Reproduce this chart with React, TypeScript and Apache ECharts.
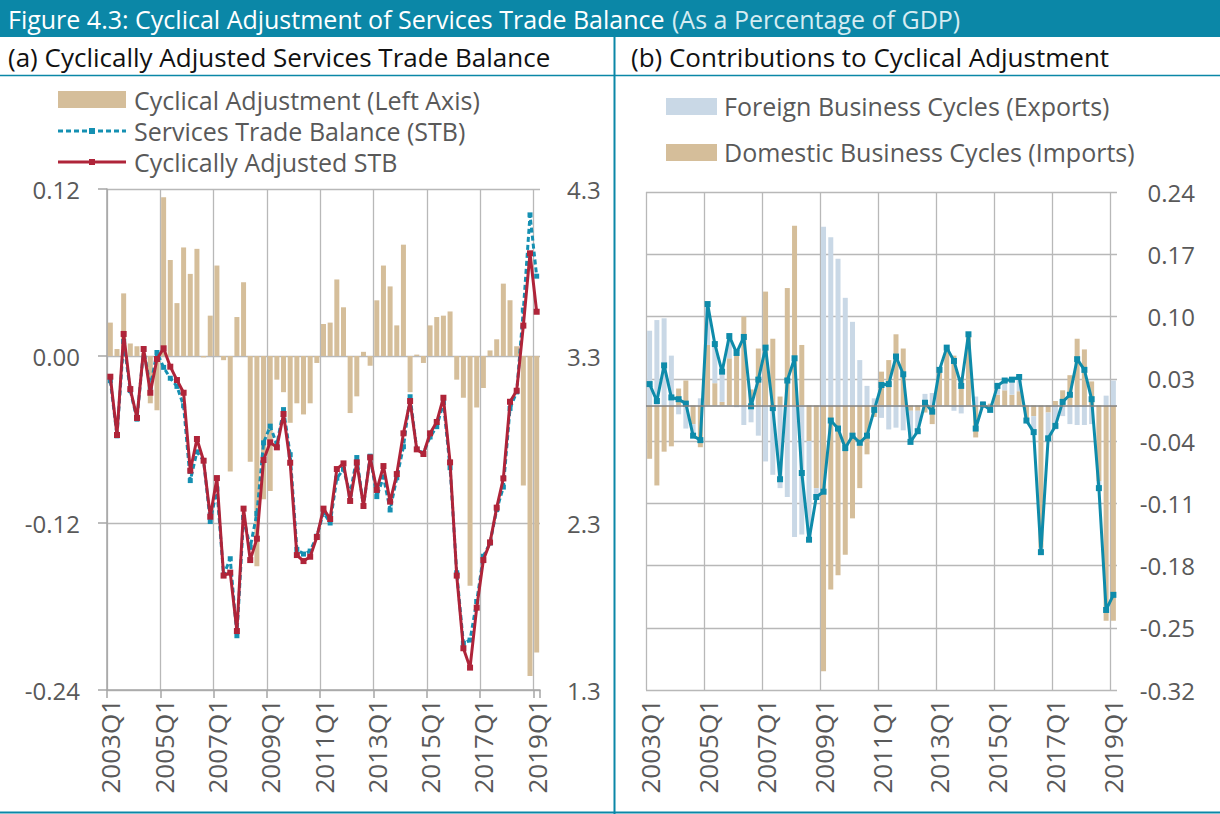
import React, { useEffect, useRef } from "react";
import * as echarts from "echarts";

// ---------- categories ----------
const quarters: string[] = [];
for (let y = 2003; y <= 2019; y++) {
  for (let q = 1; q <= 4; q++) {
    if (y === 2019 && q > 1) break;
    quarters.push(`${y}Q${q}`);
  }
}

// ---------- tick labels ----------
const adjustmentTicks = [-0.24, -0.12, 0, 0.12];
const stbTicks = [1.3, 2.3, 3.3, 4.3];
const contributionTicks = [-0.32, -0.25, -0.18, -0.11, -0.04, 0.03, 0.1, 0.17, 0.24];

// ---------- panel (a) ----------
const cyclicalAdjustment = [
  0.024, 0.005, 0.045, 0.009, 0.007, 0.002, -0.034, -0.039,
  0.114, 0.069, 0.038, 0.078, 0.059, 0.077, -0.001, 0.029,
  0.065, -0.003, -0.083, 0.028, 0.053, -0.076, -0.151, -0.103,
  -0.097, -0.017, -0.026, -0.048, -0.034, -0.042, -0.034, -0.005,
  0.023, 0.024, 0.055, 0.035, -0.041, -0.029, 0.003, -0.007,
  0.04, 0.065, 0.05, 0.022, 0.08, -0.026, 0.001, -0.005,
  0.022, 0.028, 0.029, 0.032, -0.017, -0.03, -0.165, -0.037,
  -0.023, 0.004, 0.012, 0.052, 0.04, 0.007, -0.093, -0.23,
  -0.213,
];

const servicesTradeBalance = [
  3.152, 2.822, 3.387, 3.093, 2.922, 3.34, 3.114, 3.321,
  3.232, 3.167, 3.118, 3.002, 2.554, 2.726, 2.674, 2.309,
  2.504, 1.988, 2.086, 1.625, 2.333, 2.154, 2.357, 2.78,
  2.88, 2.77, 2.979, 2.709, 2.142, 2.114, 2.132, 2.221,
  2.363, 2.3, 2.568, 2.622, 2.473, 2.692, 2.399, 2.7,
  2.458, 2.576, 2.378, 2.571, 2.757, 3.056, 2.74, 2.718,
  2.815, 2.877, 3.021, 2.631, 2.002, 1.58, 1.599, 1.83,
  2.101, 2.18, 2.38, 2.515, 2.986, 3.085, 3.575, 4.145,
  3.778,
];

const adjustedServicesTradeBalance = [
  3.176, 2.827, 3.432, 3.102, 2.929, 3.342, 3.08, 3.282,
  3.346, 3.236, 3.156, 3.08, 2.613, 2.803, 2.673, 2.338,
  2.569, 1.985, 2.003, 1.653, 2.386, 2.078, 2.206, 2.677,
  2.783, 2.753, 2.953, 2.661, 2.108, 2.072, 2.098, 2.216,
  2.386, 2.324, 2.623, 2.657, 2.432, 2.663, 2.402, 2.693,
  2.498, 2.641, 2.428, 2.593, 2.837, 3.03, 2.741, 2.713,
  2.837, 2.905, 3.05, 2.663, 1.985, 1.55, 1.434, 1.793,
  2.078, 2.184, 2.392, 2.567, 3.026, 3.092, 3.482, 3.915,
  3.565,
];

// ---------- panel (b) ----------
const exportsContribution = [
  0.084, 0.096, 0.098, 0.056, -0.01, -0.026, -0.013, 0.008,
  0.047, 0.045, 0.035, 0.026, -0.002, -0.022, -0.019, -0.034,
  -0.063, -0.078, -0.093, -0.103, -0.148, -0.145, -0.11, -0.01,
  0.201, 0.189, 0.165, 0.121, 0.094, 0.051, 0.022, 0.008,
  -0.014, -0.027, -0.025, -0.028, -0.034, -0.024, 0.013, 0.014,
  0.002, 0.001, -0.006, -0.009, 0.0, 0.01, 0.005, -0.006,
  0.01, 0.011, 0.016, 0.017, -0.001, -0.018, -0.005, -0.029,
  -0.027, -0.012, -0.021, -0.022, -0.022, -0.021, -0.008, 0.011,
  0.028,
];

const importsContribution = [
  -0.06, -0.09, -0.052, -0.046, 0.019, 0.028, -0.021, -0.047,
  0.068, 0.025, 0.004, 0.053, 0.062, 0.1, 0.018, 0.064,
  0.128, 0.075, 0.01, 0.132, 0.202, 0.068, -0.04, -0.093,
  -0.299, -0.207, -0.191, -0.168, -0.127, -0.093, -0.055, -0.013,
  0.038, 0.051, 0.08, 0.064, -0.006, -0.006, -0.008, -0.021,
  0.038, 0.064, 0.056, 0.032, 0.08, -0.036, -0.002, 0.002,
  0.012, 0.017, 0.012, 0.016, -0.016, -0.012, -0.16, -0.008,
  0.005, 0.017, 0.034, 0.075, 0.063, 0.027, -0.085, -0.242,
  -0.242,
];

// ---------- styles ----------
const FONT = "'Open Sans', Lato, 'Noto Sans', sans-serif";
const TEAL = "#0B87A7";
const TAN = "#D5BE9A";
const LIGHT_BLUE = "#C9D8E6";
const STB_BLUE = "#1590B2";
const RED = "#AF2439";
const GRID = "#B8B8B8";
const LABEL = "#595959";

export default function App() {
  const ref = useRef<HTMLDivElement>(null);

  useEffect(() => {
    document.body.style.margin = "0";
    if (!ref.current) return;
    const chart = echarts.init(ref.current, undefined, { renderer: "svg" });

    const splitLineStyle = { color: GRID, width: 1.3 };
    // vertical grid lines: every 8 quarters, none on the closing right edge
    const verticalGridColors = [GRID, GRID, GRID, GRID, GRID, GRID, GRID, GRID, GRID, "rgba(0,0,0,0)"];
    const axisLabelBase = { color: LABEL, fontSize: 24, fontFamily: FONT };

    const legendText = (x: number, y: number, text: string) => ({
      type: "text",
      x,
      y,
      style: { text, fill: LABEL, font: `25px ${FONT}`, verticalAlign: "middle", align: "left" },
      silent: true,
    });

    const option: any = {
      animation: false,
      textStyle: { fontFamily: FONT },
      graphic: [
        { type: "rect", shape: { x: 0, y: 0, width: 1220, height: 37 }, style: { fill: TEAL }, silent: true },
        {
          type: "text",
          x: 8,
          y: 19,
          style: { text: "Figure 4.3: Cyclical Adjustment of Services Trade Balance", fill: "#FFFFFF", font: `25px ${FONT}`, verticalAlign: "middle" },
          silent: true,
        },
        {
          type: "text",
          x: 672,
          y: 19,
          style: { text: "(As a Percentage of GDP)", fill: "#D6ECF2", font: `25px ${FONT}`, verticalAlign: "middle" },
          silent: true,
        },
        {
          type: "text",
          x: 8,
          y: 57,
          style: { text: "(a) Cyclically Adjusted Services Trade Balance", fill: "#111", font: `26px ${FONT}`, verticalAlign: "middle" },
          silent: true,
        },
        {
          type: "text",
          x: 631,
          y: 57,
          style: { text: "(b) Contributions to Cyclical Adjustment", fill: "#111", font: `26px ${FONT}`, verticalAlign: "middle" },
          silent: true,
        },
        { type: "line", shape: { x1: 0, y1: 75.5, x2: 1220, y2: 75.5 }, style: { stroke: TEAL, lineWidth: 1.5 }, silent: true },
        { type: "line", shape: { x1: 614.5, y1: 37, x2: 614.5, y2: 814 }, style: { stroke: TEAL, lineWidth: 2 }, silent: true },
        { type: "line", shape: { x1: 0, y1: 812.5, x2: 1220, y2: 812.5 }, style: { stroke: TEAL, lineWidth: 2 }, silent: true },
        // legend (a)
        { type: "rect", shape: { x: 58, y: 91, width: 68, height: 17 }, style: { fill: TAN }, silent: true },
        legendText(134, 100, "Cyclical Adjustment (Left Axis)"),
        { type: "line", shape: { x1: 58, y1: 131, x2: 126, y2: 131 }, style: { stroke: STB_BLUE, lineWidth: 3, lineDash: [5, 3] }, silent: true },
        { type: "rect", shape: { x: 89, y: 128, width: 6, height: 6 }, style: { fill: STB_BLUE }, silent: true },
        legendText(134, 131, "Services Trade Balance (STB)"),
        { type: "line", shape: { x1: 58, y1: 162, x2: 126, y2: 162 }, style: { stroke: RED, lineWidth: 3 }, silent: true },
        { type: "rect", shape: { x: 89, y: 159, width: 6, height: 6 }, style: { fill: RED }, silent: true },
        legendText(134, 162, "Cyclically Adjusted STB"),
        // legend (b)
        { type: "rect", shape: { x: 666, y: 98, width: 51, height: 17 }, style: { fill: LIGHT_BLUE }, silent: true },
        legendText(724, 106, "Foreign Business Cycles (Exports)"),
        { type: "rect", shape: { x: 666, y: 144, width: 51, height: 17 }, style: { fill: TAN }, silent: true },
        legendText(724, 152, "Domestic Business Cycles (Imports)"),
      ],
      grid: [
        { left: 107, top: 189, width: 433, height: 501, containLabel: false },
        { left: 646, top: 192, width: 471, height: 498, containLabel: false },
      ],
      xAxis: [
        {
          type: "category",
          gridIndex: 0,
          data: quarters,
          boundaryGap: true,
          axisLine: { show: true, onZero: false, lineStyle: { color: "#A6A6A6", width: 1.5 } },
          axisTick: { show: true, interval: 7, length: 8, lineStyle: { color: "#A6A6A6", width: 1.5 } },
          axisLabel: { ...axisLabelBase, interval: 7, rotate: 90, fontSize: 26, margin: 9 },
          splitLine: { show: true, interval: 7, lineStyle: { ...splitLineStyle, color: verticalGridColors } },
        },
        {
          type: "category",
          gridIndex: 1,
          data: quarters,
          boundaryGap: true,
          axisLine: { show: false, onZero: false },
          axisTick: { show: false, interval: 7 },
          axisLabel: { ...axisLabelBase, interval: 7, rotate: 90, fontSize: 26, margin: 9 },
          splitLine: { show: true, interval: 7, lineStyle: { ...splitLineStyle, color: verticalGridColors } },
        },
      ],
      yAxis: [
        {
          type: "value",
          gridIndex: 0,
          position: "left",
          min: adjustmentTicks[0],
          max: adjustmentTicks[adjustmentTicks.length - 1],
          interval: 0.12,
          axisLine: { show: true, lineStyle: { color: "#A6A6A6", width: 1.5 } },
          axisTick: { show: true, length: 9, lineStyle: { color: "#A6A6A6", width: 1.5 } },
          axisLabel: { ...axisLabelBase, margin: 27, formatter: (v: number) => v.toFixed(2) },
          splitLine: { show: true, lineStyle: splitLineStyle },
        },
        {
          type: "value",
          gridIndex: 0,
          position: "right",
          min: stbTicks[0],
          max: stbTicks[stbTicks.length - 1],
          axisLine: { show: false },
          axisTick: { show: false, customValues: stbTicks },
          axisLabel: { ...axisLabelBase, margin: 27, customValues: stbTicks, formatter: (v: number) => v.toFixed(1) },
          splitLine: { show: false },
        },
        {
          type: "value",
          gridIndex: 1,
          position: "right",
          min: contributionTicks[0],
          max: contributionTicks[contributionTicks.length - 1],
          axisLine: { show: false },
          axisTick: { show: false, customValues: contributionTicks },
          axisLabel: { ...axisLabelBase, margin: 78, align: "right", customValues: contributionTicks, formatter: (v: number) => v.toFixed(2) },
          splitLine: { show: true, lineStyle: splitLineStyle },
        },
      ],
      series: [
        {
          name: "Cyclical Adjustment (Left Axis)",
          type: "bar",
          xAxisIndex: 0,
          yAxisIndex: 0,
          data: cyclicalAdjustment,
          barWidth: 5,
          itemStyle: { color: TAN },
          z: 2,
        },
        {
          name: "Services Trade Balance (STB)",
          type: "line",
          xAxisIndex: 0,
          yAxisIndex: 1,
          data: servicesTradeBalance,
          symbol: "rect",
          symbolSize: 5,
          showAllSymbol: true,
          lineStyle: { color: STB_BLUE, width: 3, type: [5, 3] },
          itemStyle: { color: STB_BLUE },
          z: 3,
        },
        {
          name: "Cyclically Adjusted STB",
          type: "line",
          xAxisIndex: 0,
          yAxisIndex: 1,
          data: adjustedServicesTradeBalance,
          symbol: "rect",
          symbolSize: 6,
          showAllSymbol: true,
          lineStyle: { color: RED, width: 3 },
          itemStyle: { color: RED },
          z: 4,
        },
        {
          name: "Domestic Business Cycles (Imports)",
          type: "bar",
          xAxisIndex: 1,
          yAxisIndex: 2,
          stack: "contrib",
          data: importsContribution,
          barWidth: 5,
          itemStyle: { color: TAN },
          z: 2,
          markLine: {
            silent: true,
            symbol: "none",
            label: { show: false },
            lineStyle: { color: "#808080", width: 1.5, type: "solid" },
            data: [{ yAxis: 0 }],
          },
        },
        {
          name: "Foreign Business Cycles (Exports)",
          type: "bar",
          xAxisIndex: 1,
          yAxisIndex: 2,
          stack: "contrib",
          data: exportsContribution,
          barWidth: 5,
          itemStyle: { color: LIGHT_BLUE },
          z: 2,
        },
        {
          name: "Cyclical Adjustment",
          type: "line",
          xAxisIndex: 1,
          yAxisIndex: 2,
          data: cyclicalAdjustment,
          symbol: "rect",
          symbolSize: 6,
          showAllSymbol: true,
          lineStyle: { color: "#0E8BAA", width: 3 },
          itemStyle: { color: "#0E8BAA" },
          z: 4,
        },
      ],
    };

    chart.setOption(option);
    return () => chart.dispose();
  }, []);

  return <div ref={ref} style={{ position: "absolute", left: 0, top: 0, width: 1220, height: 814 }} />;
}
